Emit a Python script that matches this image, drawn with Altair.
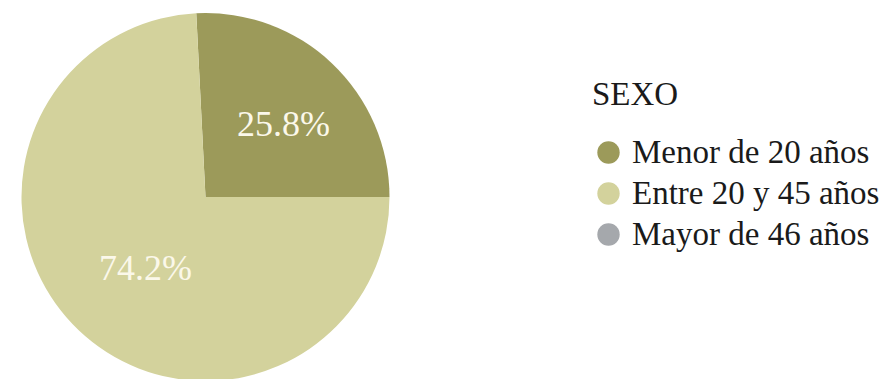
import math
import altair as alt
import pandas as pd

categories = ["Menor de 20 años", "Entre 20 y 45 años", "Mayor de 46 años"]
values = [25.8, 74.2, 0.0]
labels = ["25.8%", "74.2%", ""]
colors = ["#9c9a5a", "#d3d29c", "#a5a8ac"]

df = pd.DataFrame({"cat": categories, "value": values, "label": labels, "ord": [0, 1, 2]})

total = sum(values)
start = math.pi / 2 - values[0] / total * 2 * math.pi
theta_scale = alt.Scale(range=[start, start + 2 * math.pi])

color = alt.Color(
    "cat:N",
    scale=alt.Scale(domain=categories, range=colors),
    sort=categories,
    legend=alt.Legend(
        title="SEXO",
        orient="none",
        legendX=584,
        legendY=71,
        titleFont="Liberation Serif",
        titleFontSize=33,
        titleFontWeight="normal",
        titleColor="#1a1a1a",
        titlePadding=24,
        labelFont="Liberation Serif",
        labelFontSize=33,
        labelColor="#1a1a1a",
        labelLimit=400,
        symbolType="circle",
        symbolSize=500,
        symbolStrokeWidth=0,
        symbolOpacity=1,
        labelOffset=7,
        rowPadding=7,
        padding=0,
    ),
)

base = alt.Chart(df).encode(
    theta=alt.Theta("value:Q", stack=True, scale=theta_scale),
    order=alt.Order("ord:Q"),
)

pie = base.mark_arc(outerRadius=184, stroke=None).encode(
    color=color,
    x=alt.value(197.5),
    y=alt.value(189),
)

text = base.transform_filter("datum.value > 0").mark_text(
    font="Liberation Serif", fontSize=36, color="#fbf8ea", align="center", baseline="middle", dx=9
).encode(
    text="label:N",
    radius=alt.value(100),
    x=alt.value(197.5),
    y=alt.value(189),
)

chart = (
    alt.layer(pie, text)
    .properties(width=879, height=371, autosize=alt.AutoSizeParams(type="none"), padding=0)
    .configure_view(stroke=None)
)

chart.save("out.html", embed_options={"renderer": "svg", "actions": False})
